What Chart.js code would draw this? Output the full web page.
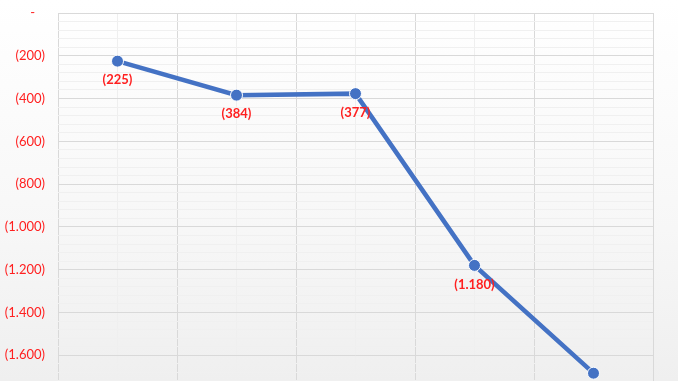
<!DOCTYPE html>
<html>
<head>
<meta charset="utf-8">
<script src="https://cdn.jsdelivr.net/npm/chart.js@4/dist/chart.umd.min.js"></script>
<style>
  html, body { margin: 0; padding: 0; width: 678px; height: 381px; overflow: hidden; }
  body { background: linear-gradient(to bottom, #ffffff 0%, #f7f7f7 60%, #efefef 100%); }
  #wrap { width: 678px; height: 405px; position: relative; }
</style>
</head>
<body>
<div id="wrap"><canvas id="chart"></canvas></div>
<script>
// categories are hidden in the picture (cut off below the plot)
const categories = ['1', '2', '3', '4', '5']
const values = [-225, -384, -377, -1180, -1684]
const showLabel = [true, true, true, true, false]
const yTicks = [0, -200, -400, -600, -800, -1000, -1200, -1400, -1600]

const red = '#ff2020'
const blue = '#4472c4'

function fmt(v) {
  if (v === 0) return '-   '
  const s = Math.abs(v).toString().replace(/\B(?=(\d{3})+(?!\d))/g, '.')
  return v < 0 ? '(' + s + ')' : s + ' '
}

// red value labels under each point
const pointLabels = {
  id: 'pointLabels',
  afterDatasetsDraw(chart) {
    const { ctx } = chart
    const meta = chart.getDatasetMeta(0)
    ctx.save()
    ctx.fillStyle = red
    ctx.font = 'bold 13px Lato'
    ctx.textAlign = 'center'
    ctx.textBaseline = 'middle'
    meta.data.forEach((pt, i) => {
      if (!showLabel[i]) return
      ctx.fillText(fmt(values[i]), pt.x, pt.y + 19)
    })
    ctx.restore()
  }
}

const ctx = document.getElementById('chart').getContext('2d')
new Chart(ctx, {
  type: 'line',
  data: {
    datasets: [{
      label: 'serie',
      data: values.map((v, i) => ({ x: i, y: v })),
      borderColor: blue,
      borderWidth: 4.5,
      pointRadius: 6,
      pointHoverRadius: 6,
      pointBackgroundColor: blue,
      pointBorderColor: '#ffffff',
      pointBorderWidth: 1,
      tension: 0
    }]
  },
  options: {
    responsive: true,
    maintainAspectRatio: false,
    animation: false,
    layout: { padding: { top: 13, right: 25, bottom: 2, left: 0 } },
    plugins: { legend: { display: false }, tooltip: { enabled: false } },
    scales: {
      x: {
        type: 'linear',
        min: -0.5,
        max: categories.length - 0.5,
        ticks: { display: false, stepSize: 0.5 },
        grid: {
          drawTicks: false,
          color: c => Number.isInteger(c.tick.value) ? '#efefef' : '#d9d9d9',
          lineWidth: 1
        },
        border: { display: false }
      },
      y: {
        min: -1800,
        max: 0,
        afterFit: s => {
          s.width = 58
          s.paddingTop = 0
          s.paddingBottom = 0
        },
        afterBuildTicks: s => {
          const t = []
          for (let v = 0; v >= -1800; v -= 40) t.push({ value: v })
          s.ticks = t
        },
        ticks: {
          color: red,
          font: { family: 'Lato', size: 13 },
          padding: 13,
          autoSkip: false,
          callback: v => yTicks.includes(v) ? fmt(v) : ''
        },
        grid: {
          drawTicks: false,
          color: c => c.tick.value % 200 === 0 ? '#d9d9d9' : '#f0f0f0',
          lineWidth: 1
        },
        border: { display: false }
      }
    }
  },
  plugins: [pointLabels]
})
</script>
</body>
</html>
